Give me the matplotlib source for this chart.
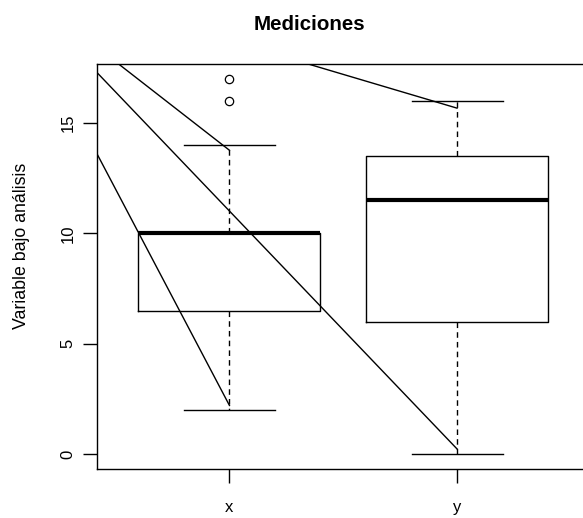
import matplotlib
matplotlib.use("Agg")
from matplotlib import pyplot as plt

# box statistics
groups = ["x", "y"]
whislo = [2, 0]
q1 = [6.5, 6]
med = [10, 11.5]
q3 = [10, 13.5]
whishi = [14, 16]
fliers = [[16, 17], []]

# straight lines drawn over the boxes: common start point and end points
line_start = (0, 21.8)
line_ends_x = [1, 1, 2, 2]
line_ends_y = [13.77, 2.2, 15.68, 0.23]

plt.rcParams['font.family'] = ['Liberation Sans', 'DejaVu Sans']

fig = plt.figure(figsize=(5.83, 5.18), dpi=100)
ax = fig.add_axes([0.1672, 0.0946, 0.8431, 0.7818])

stats = []
for i in range(len(groups)):
    stats.append(dict(label=groups[i], whislo=whislo[i], q1=q1[i], med=med[i],
                      q3=q3[i], whishi=whishi[i], fliers=fliers[i]))

ax.bxp(stats, positions=[1, 2], widths=0.8, showfliers=True, patch_artist=False,
       boxprops=dict(color='black', linewidth=1),
       medianprops=dict(color='black', linewidth=3, solid_capstyle='butt'),
       whiskerprops=dict(color='black', linewidth=1, linestyle=(0, (4, 3))),
       capprops=dict(color='black', linewidth=1),
       capwidths=0.4,
       flierprops=dict(marker='o', markersize=6, markerfacecolor='none',
                       markeredgecolor='black', markeredgewidth=0.9))

for ex, ey in zip(line_ends_x, line_ends_y):
    ax.plot([line_start[0], ex], [line_start[1], ey], color='black', linewidth=1)

ax.set_xlim(0.42, 2.58)
ax.set_ylim(-0.68, 17.68)
ax.set_xticks([1, 2])
ax.set_xticklabels(groups)
ax.set_yticks([0, 5, 10, 15])
ax.set_yticklabels(['0', '5', '10', '15'], rotation=90, va='center')
ax.tick_params(axis='both', length=10, width=1, labelsize=12, pad=12)
ax.tick_params(axis='y', pad=6)
for s in ax.spines.values():
    s.set_linewidth(1)

fig.text(22 / 583, 1 - 246 / 518, "Variable bajo análisis", fontsize=12.8,
         rotation=90, ha='center', va='center')
fig.text(309 / 583, 1 - 25 / 518, "Mediciones", fontsize=14.8, fontweight='bold',
         ha='center', va='center')

fig.savefig("out.png", dpi=100)
